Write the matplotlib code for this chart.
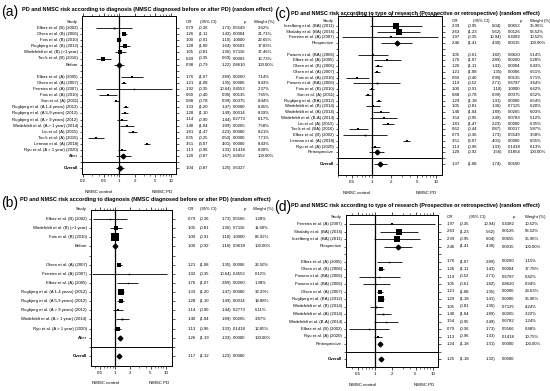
import matplotlib
matplotlib.use("Agg")
import matplotlib.pyplot as plt
import matplotlib.transforms as mtrans
from matplotlib.ticker import LogLocator, NullFormatter
import numpy as np

plt.rcParams['font.family'] = ['Liberation Sans', 'DejaVu Sans']

# ---------------- DATA ----------------
# Panel (a)
A_TITLE = "PD and NMSC risk according to diagnosis (NMSC diagnosed before or after PD) (random effect)"
A_LABELS = ["Elbaz et al. (B) (2002)", "Olsen et al. (B) (2006)", "Fois et al. (B) (2010)",
            "Rugbjerg et al. (B) (2012)", "Wirdefeldt et al. (B) (>1 year)", "Tacik et al. (B) (2016)",
            "Before",
            "Elbaz et al. (A) (2005)", "Olsen et al. (A) (2007)", "Ferreira et al. (A) (2007)",
            "Fois et al. (A) (2010)", "Sun et al. (A) (2011)", "Rugbjerg et al. (A 1-4 years) (2012)",
            "Rugbjerg et al. (A 5-9 years) (2012)", "Rugbjerg et al. (A > 9 years) (2012)",
            "Wirdefeldt et al. (A > 1 year) (2014)", "Lin et al. (A) (2015)", "Tacik et al. (A) (2016)",
            "Lerman et al. (A) (2018)", "Ryu et al. (A > 1 year) (2020)", "After", "Overall"]
A_OR = [0.79, 1.26, 1.00, 1.28, 1.05, 0.49, 0.98,
        1.76, 1.21, 1.92, 0.60, 0.88, 1.33, 1.28, 1.14, 1.40, 1.81, 0.35, 3.51, 1.13, 1.20, 1.04]
A_LO = [0.36, 1.11, 0.91, 1.00, 0.81, 0.35, 0.79,
        1.07, 1.08, 0.35, 0.40, 0.78, 1.20, 1.10, 0.90, 1.04, 1.47, 0.25, 3.07, 0.96, 0.87, 0.87]
A_HI = [1.73, 1.43, 1.10, 1.64, 1.36, 0.69, 1.22,
        2.89, 1.35, 10.64, 0.90, 0.99, 1.47, 1.49, 1.44, 1.89, 2.23, 0.50, 4.01, 1.33, 1.67, 1.25]
A_P = [0.5549, 0.0004, 1.0000, 0.0503, 0.7116, 0.0003, 0.8610,
       0.0260, 0.0006, 0.4553, 0.0135, 0.0375, 0.0000, 0.0014, 0.2773, 0.0265, 0.0000, 0.0000,
       0.0000, 0.1418, 0.2652, 0.6327]
A_W = [3.62, 21.71, 22.65, 17.83, 17.46, 16.73, 100.00,
       7.14, 8.43, 2.37, 7.65, 8.44, 8.45, 8.39, 8.17, 7.58, 8.21, 7.71, 8.43, 8.30, 100.00, None]
A_POOLED = ["Before", "After", "Overall"]
A_TICKS = [0.2, 0.5, 1, 2, 5, 10]

# Panel (b)
B_TITLE = A_TITLE
B_LABELS = ["Elbaz et al. (B) (2002)", "Wirdefeldt et al. (B) (>1 year)", "Fois et al. (B) (2010)", "Before",
            "Olsen et al. (A) (2007)", "Ferreira et al. (A) (2007)", "Elbaz et al. (A) (2005)",
            "Rugbjerg et al. (A 1-4 years) (2012)", "Rugbjerg et al. (A 5-9 years) (2012)",
            "Rugbjerg et al. (A > 9 years) (2012)", "Wirdefeldt et al. (A > 1 year) (2014)",
            "Ryu et al. (A > 1 year) (2020)", "After", "Overall"]
B_OR = [0.79, 1.05, 1.00, 1.00, 1.21, 1.92, 1.76, 1.33, 1.28, 1.14, 1.40, 1.13, 1.26, 1.17]
B_LO = [0.36, 0.81, 0.91, 0.92, 1.08, 0.35, 1.07, 1.20, 1.10, 0.90, 1.04, 0.96, 1.19, 1.12]
B_HI = [1.73, 1.36, 1.10, 1.10, 1.35, 10.64, 2.89, 1.47, 1.49, 1.44, 1.89, 1.33, 1.33, 1.23]
B_P = [0.5566, 0.7116, 1.0000, 0.9618, 0.0006, 0.4553, 0.0260, 0.0000, 0.0014, 0.2773, 0.0265,
       0.1418, 0.0000, 0.0000]
B_W = [1.28, 11.60, 86.92, 100.00, 26.50, 0.12, 1.38, 32.29, 14.88, 6.11, 3.87, 12.85, 100.00, None]
B_POOLED = ["Before", "After", "Overall"]
B_TICKS = [0.5, 1, 2, 5, 10]

# Panel (c)
C_TITLE = "PD and NMSC risk according to type of research (Prospective or retrospective) (random effect)"
C_LABELS = ["Inzelberg et al. (BA) (2011)", "Shalaby et al. (BA) (2016)", "Ferreira et al. (A) (2007)",
            "Prospective",
            "Powers et al. (BA) (2006)", "Elbaz et al. (A) (2005)", "Olsen et al. (B) (2006)",
            "Olsen et al. (A) (2007)", "Fois et al. (A) (2010)", "Powers et al. (BA) (2006)",
            "Fois et al. (B) (2010)", "Sun et al. (A) (2011)", "Rugbjerg et al. (BA) (2012)",
            "Wirdefeldt et al. (B) (2014)", "Wirdefeldt et al. (A) (2014)", "Wirdefeldt et al. (B-A) (2014)",
            "Lin et al. (A) (2015)", "Tacik et al. (BA) (2016)", "Elbaz et al. (B) (2002)",
            "Lerman et al. (A) (2018)", "Ryu et al. (A) (2020)", "Retrospective", "Overall"]
C_OR = [2.39, 2.63, 1.97, 2.46, 1.05, 1.76, 1.26, 1.21, 0.60, 1.19, 1.00, 0.88, 1.29, 1.05, 1.40,
        1.54, 1.81, 0.62, 0.79, 3.51, 1.13, 1.20, 1.37]
C_LO = [0.95, 1.23, 0.35, 1.41, 0.61, 1.07, 1.11, 1.08, 0.40, 0.52, 0.91, 0.78, 1.18, 0.81, 1.04,
        0.95, 1.47, 0.44, 0.36, 3.07, 0.96, 0.92, 1.08]
C_HI = [6.04, 5.62, 10.94, 4.30, 1.82, 2.89, 1.43, 1.35, 0.90, 2.71, 1.10, 0.99, 1.41, 1.36, 1.89,
        2.49, 2.23, 0.87, 1.73, 4.01, 1.33, 1.56, 1.74]
C_P = [0.0653, 0.0126, 0.4382, 0.0015, 0.8620, 0.0260, 0.0004, 0.0006, 0.0135, 0.6787, 1.0000,
       0.0375, 0.0000, 0.7125, 0.0265, 0.0783, 0.0000, 0.0017, 0.5549, 0.0000, 0.1418, 0.1854, 0.0100]
C_W = [35.96, 53.52, 10.52, 100.00, 5.14, 5.28, 6.43, 6.51, 5.71, 3.64, 6.62, 6.52, 6.54, 6.20,
       6.03, 5.12, 6.35, 5.87, 3.58, 6.55, 6.13, 100.00, None]
C_POOLED = ["Prospective", "Retrospective", "Overall"]
C_TICKS = [0.5, 1, 2, 5, 10]

# Panel (d)
D_TITLE = C_TITLE
D_LABELS = ["Ferreira et al. (A) (2007)", "Shalaby et al. (BA) (2016)", "Inzelberg et al. (BA) (2011)",
            "Prospective",
            "Elbaz et al. (A) (2005)", "Olsen et al. (B) (2006)", "Powers et al. (BA) (2006)",
            "Powers et al. (BA) (2006)", "Olsen et al. (A) (2007)", "Rugbjerg et al. (BA) (2012)",
            "Wirdefeldt et al. (B) (2014)", "Wirdefeldt et al. (A) (2014)", "Wirdefeldt et al. (B-A) (2014)",
            "Elbaz et al. (B) (2002)", "Ryu et al. (A) (2020)", "Retrospective", "Overall"]
D_OR = [1.97, 2.63, 2.39, 2.46, 1.76, 1.26, 1.19, 1.05, 1.21, 1.29, 1.05, 1.40, 1.54, 0.79, 1.13, 1.24, 1.25]
D_LO = [0.35, 1.23, 0.95, 1.41, 1.07, 1.11, 0.52, 0.61, 1.08, 1.18, 0.81, 1.04, 0.95, 0.36, 0.96, 1.18, 1.18]
D_HI = [10.94, 5.62, 6.04, 4.30, 2.89, 1.43, 2.71, 1.82, 1.35, 1.41, 1.36, 1.89, 2.49, 1.73, 1.33, 1.31, 1.32]
D_P = [0.4382, 0.0126, 0.0655, 0.0015, 0.0260, 0.0004, 0.6787, 0.8620, 0.0006, 0.0000, 0.7125,
       0.0265, 0.0782, 0.5566, 0.1418, 0.0000, 0.0000]
D_W = [10.52, 53.52, 35.96, 100.00, 1.15, 17.78, 0.42, 0.94, 23.63, 35.96, 4.24, 3.22, 1.24, 0.48,
       10.75, 100.00, None]
D_POOLED = ["Prospective", "Retrospective", "Overall"]
D_TICKS = [0.5, 1, 2, 5, 10]

# ---------------- LAYOUT (pixels) ----------------
W, H = 550, 391
fig = plt.figure(figsize=(W / 100, H / 100), dpi=100)

LAYOUTS = {
    "a": dict(box=(82, 16, 176, 174), row0=28, sp=6.1, xlim=(0.19, 12.5), header=-1.0,
              cols=(186, 199, 231, 233, 258), hcols=(186, 200, 245, 254),
              title=(22, 9.5), tag=(1, 12)),
    "b": dict(box=(90.7, 210, 171.7, 365.7), row0=219, sp=9.13, xlim=(0.33, 13.1), header=-1.05,
              cols=(187.7, 199.3, 231, 233, 255), hcols=(187.7, 200, 245, 253),
              title=(20, 200), tag=(1, 203.5)),
    "c": dict(box=(338, 16, 442, 175), row0=26, sp=5.74, xlim=(0.30, 12.4), header=-0.87,
              cols=(451.7, 467.7, 501.7, 508, 530), hcols=(451.7, 472.7, 521, 530),
              title=(291, 13), tag=(274.5, 14)),
    "d": dict(box=(346, 215, 438, 367.3), row0=224, sp=7.5, xlim=(0.316, 12.2), header=-0.97,
              cols=(446.7, 459.5, 495, 502, 525), hcols=(446.7, 469, 514, 525),
              title=(291, 205), tag=(274.5, 207.5)),
}

FS_ROW = 3.1
FS_TICK = 3.2


def fmt_tick(v):
    return ("%g" % v)


def draw_panel(tag, title, labels, ors, los, his, ps, ws, pooled, ticks):
    L = LAYOUTS[tag]
    l, t, r, b = L["box"]
    ax = fig.add_axes([l / W, 1 - b / H, (r - l) / W, (b - t) / H])
    ax.set_xscale("log")
    ax.set_xlim(*L["xlim"])
    ytop = (t - L["row0"]) / L["sp"]
    ybot = (b - L["row0"]) / L["sp"]
    ax.set_ylim(ybot, ytop)

    # row positions
    rows = []
    rr = 0
    for lab in labels:
        if lab == "Overall":
            rr += 1
        rows.append(rr)
        rr += 1
        if lab == pooled[0]:
            rr += 1

    trans = mtrans.blended_transform_factory(fig.transFigure, ax.transData)
    c_or, c_lo, c_hi, c_p, c_w = L["cols"]
    lab_x = (l - 4) / W

    for lab, y, o, lo, hi, p, w in zip(labels, rows, ors, los, his, ps, ws):
        ax.plot([lo, hi], [y, y], color="black", lw=0.6, solid_capstyle="butt", zorder=3)
        if lab in pooled:
            ax.plot([o], [y], marker="D", ms=2.4, color="black", zorder=4)
        else:
            side_px = max(1.4, 9.0 * np.sqrt(w / 100.0))
            ax.plot([o], [y], marker="s", ms=side_px * 0.72, color="black", mew=0, zorder=4)
        weight = "bold" if lab == "Overall" else "normal"
        ax.text(lab_x, y, lab, transform=trans, ha="right", va="center", fontsize=FS_ROW,
                fontweight=weight, clip_on=False)
        ax.text(c_or / W, y, "%.2f" % o, transform=trans, ha="left", va="center", fontsize=FS_ROW)
        ax.text(c_lo / W, y, "(%.2f" % lo, transform=trans, ha="left", va="center", fontsize=FS_ROW)
        ax.text(c_hi / W, y, "%.2f)" % hi, transform=trans, ha="right", va="center", fontsize=FS_ROW)
        ax.text(c_p / W, y, "%.4f" % p, transform=trans, ha="left", va="center", fontsize=FS_ROW)
        if w is not None:
            ax.text(c_w / W, y, "%.2f%%" % w, transform=trans, ha="left", va="center", fontsize=FS_ROW)

    # headers
    hy = L["header"]
    h_or, h_ci, h_p, h_w = L["hcols"]
    ax.text(lab_x, hy, "Study", transform=trans, ha="right", va="center", fontsize=FS_ROW)
    ax.text(h_or / W, hy, "OR", transform=trans, ha="left", va="center", fontsize=FS_ROW)
    ax.text(h_ci / W, hy, "(95% CI)", transform=trans, ha="left", va="center", fontsize=FS_ROW)
    ax.text(h_p / W, hy, "p", transform=trans, ha="right", va="center", fontsize=FS_ROW, style="italic")
    ax.text(h_w / W, hy, "Weight (%)", transform=trans, ha="left", va="center", fontsize=FS_ROW)

    # reference lines
    ax.axvline(1, color="black", lw=0.9, zorder=2)
    ax.axhline(rows[-1] - 1, color="black", lw=0.7, zorder=2)

    # ticks
    ax.set_xticks(ticks)
    ax.set_xticklabels([fmt_tick(v) for v in ticks])
    ax.xaxis.set_minor_locator(LogLocator(base=10, subs=np.arange(2, 10)))
    ax.xaxis.set_minor_formatter(NullFormatter())
    ax.tick_params(axis="x", which="major", top=True, direction="out", length=2.0, width=0.5,
                   labelsize=FS_TICK, pad=1.5)
    ax.tick_params(axis="x", which="minor", top=True, direction="out", length=1.2, width=0.4)
    ax.set_yticks(range(0, rows[-1] + 1))
    ax.tick_params(axis="y", which="major", left=True, right=True, direction="out", length=1.8,
                   width=0.45, labelleft=False)
    for s in ax.spines.values():
        s.set_linewidth(0.7)

    # bottom labels
    yb = 1 - (b + 17.5) / H
    fig.text((l + 0.18 * (r - l)) / W, yb, "NMSC control", ha="center", va="center", fontsize=FS_TICK)
    fig.text((l + 0.85 * (r - l)) / W, yb, "NMSC PD", ha="center", va="center", fontsize=FS_TICK)

    # title and tag
    tx, ty = L["title"]
    fig.text(tx / W, 1 - ty / H, title, ha="left", va="center", fontsize=4.0, fontweight="bold")
    gx, gy = L["tag"]
    fig.text(gx / W, 1 - gy / H, "(%s)" % tag, ha="left", va="center", fontsize=10)


draw_panel("a", A_TITLE, A_LABELS, A_OR, A_LO, A_HI, A_P, A_W, A_POOLED, A_TICKS)
draw_panel("b", B_TITLE, B_LABELS, B_OR, B_LO, B_HI, B_P, B_W, B_POOLED, B_TICKS)
draw_panel("c", C_TITLE, C_LABELS, C_OR, C_LO, C_HI, C_P, C_W, C_POOLED, C_TICKS)
draw_panel("d", D_TITLE, D_LABELS, D_OR, D_LO, D_HI, D_P, D_W, D_POOLED, D_TICKS)

fig.savefig("out.png", dpi=100)
